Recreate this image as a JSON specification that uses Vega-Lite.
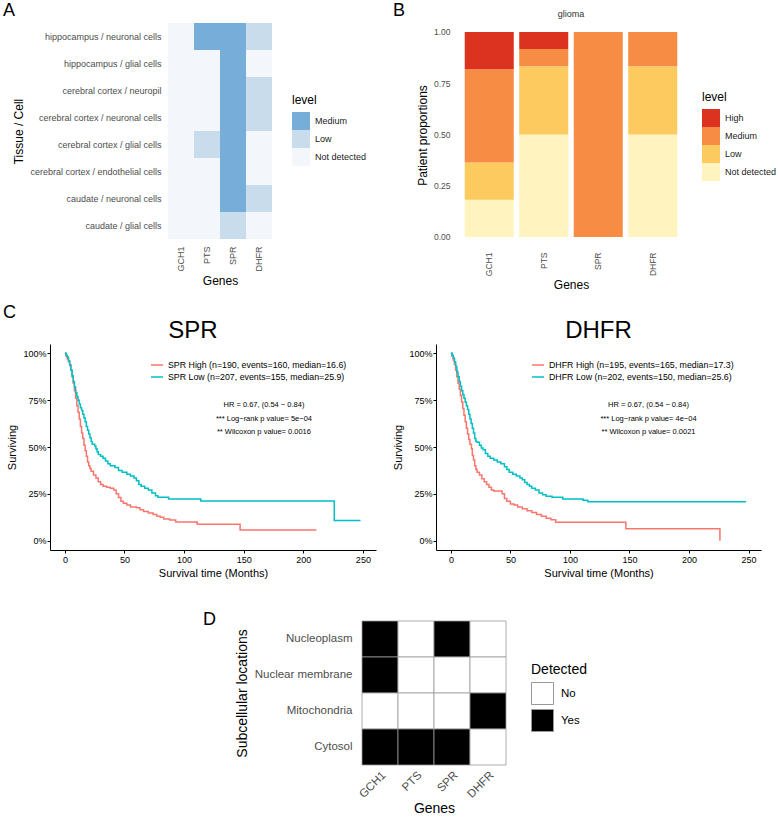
{
  "$schema": "https://vega.github.io/schema/vega-lite/v6.json",
  "autosize": {"type": "none"},
  "padding": {"left": 50, "top": 23, "right": 728, "bottom": 797},
  "config": {
    "view": {"stroke": null},
    "font": "Liberation Sans",
    "title": {"fontWeight": "normal", "font": "Liberation Sans", "color": "#000000", "baseline": "alphabetic"},
    "axis": {"grid": false, "titleFontWeight": "normal", "labelFont": "Liberation Sans", "titleFont": "Liberation Sans", "titleColor": "#000000"},
    "legend": {"titleFontWeight": "normal", "labelFont": "Liberation Sans", "titleFont": "Liberation Sans", "titleColor": "#000000", "labelColor": "#1a1a1a"}
  },
  "datasets": {
    "tissue": [
      {"gene": "GCH1", "tissue": "hippocampus / neuronal cells", "level": "Not detected"},
      {"gene": "GCH1", "tissue": "hippocampus / glial cells", "level": "Not detected"},
      {"gene": "GCH1", "tissue": "cerebral cortex / neuropil", "level": "Not detected"},
      {"gene": "GCH1", "tissue": "cerebral cortex / neuronal cells", "level": "Not detected"},
      {"gene": "GCH1", "tissue": "cerebral cortex / glial cells", "level": "Not detected"},
      {"gene": "GCH1", "tissue": "cerebral cortex / endothelial cells", "level": "Not detected"},
      {"gene": "GCH1", "tissue": "caudate / neuronal cells", "level": "Not detected"},
      {"gene": "GCH1", "tissue": "caudate / glial cells", "level": "Not detected"},
      {"gene": "PTS", "tissue": "hippocampus / neuronal cells", "level": "Medium"},
      {"gene": "PTS", "tissue": "hippocampus / glial cells", "level": "Not detected"},
      {"gene": "PTS", "tissue": "cerebral cortex / neuropil", "level": "Not detected"},
      {"gene": "PTS", "tissue": "cerebral cortex / neuronal cells", "level": "Not detected"},
      {"gene": "PTS", "tissue": "cerebral cortex / glial cells", "level": "Low"},
      {"gene": "PTS", "tissue": "cerebral cortex / endothelial cells", "level": "Not detected"},
      {"gene": "PTS", "tissue": "caudate / neuronal cells", "level": "Not detected"},
      {"gene": "PTS", "tissue": "caudate / glial cells", "level": "Not detected"},
      {"gene": "SPR", "tissue": "hippocampus / neuronal cells", "level": "Medium"},
      {"gene": "SPR", "tissue": "hippocampus / glial cells", "level": "Medium"},
      {"gene": "SPR", "tissue": "cerebral cortex / neuropil", "level": "Medium"},
      {"gene": "SPR", "tissue": "cerebral cortex / neuronal cells", "level": "Medium"},
      {"gene": "SPR", "tissue": "cerebral cortex / glial cells", "level": "Medium"},
      {"gene": "SPR", "tissue": "cerebral cortex / endothelial cells", "level": "Medium"},
      {"gene": "SPR", "tissue": "caudate / neuronal cells", "level": "Medium"},
      {"gene": "SPR", "tissue": "caudate / glial cells", "level": "Low"},
      {"gene": "DHFR", "tissue": "hippocampus / neuronal cells", "level": "Low"},
      {"gene": "DHFR", "tissue": "hippocampus / glial cells", "level": "Not detected"},
      {"gene": "DHFR", "tissue": "cerebral cortex / neuropil", "level": "Low"},
      {"gene": "DHFR", "tissue": "cerebral cortex / neuronal cells", "level": "Low"},
      {"gene": "DHFR", "tissue": "cerebral cortex / glial cells", "level": "Not detected"},
      {"gene": "DHFR", "tissue": "cerebral cortex / endothelial cells", "level": "Not detected"},
      {"gene": "DHFR", "tissue": "caudate / neuronal cells", "level": "Low"},
      {"gene": "DHFR", "tissue": "caudate / glial cells", "level": "Not detected"}
    ],
    "glioma": [
      {"gene": "GCH1", "level": "Not detected", "rank": 1, "proportion": 0.182},
      {"gene": "GCH1", "level": "Low", "rank": 2, "proportion": 0.182},
      {"gene": "GCH1", "level": "Medium", "rank": 3, "proportion": 0.454},
      {"gene": "GCH1", "level": "High", "rank": 4, "proportion": 0.182},
      {"gene": "PTS", "level": "Not detected", "rank": 1, "proportion": 0.5},
      {"gene": "PTS", "level": "Low", "rank": 2, "proportion": 0.333},
      {"gene": "PTS", "level": "Medium", "rank": 3, "proportion": 0.0835},
      {"gene": "PTS", "level": "High", "rank": 4, "proportion": 0.0835},
      {"gene": "SPR", "level": "Medium", "rank": 3, "proportion": 1.0},
      {"gene": "DHFR", "level": "Not detected", "rank": 1, "proportion": 0.5},
      {"gene": "DHFR", "level": "Low", "rank": 2, "proportion": 0.333},
      {"gene": "DHFR", "level": "Medium", "rank": 3, "proportion": 0.167}
    ],
    "spr": [
      {"g":"High","t":0,"s":1},{"g":"High","t":1,"s":0.985},{"g":"High","t":2,"s":0.97},{"g":"High","t":3,"s":0.955},{"g":"High","t":4,"s":0.94},{"g":"High","t":5,"s":0.91},{"g":"High","t":6,"s":0.875},{"g":"High","t":7,"s":0.84},{"g":"High","t":8,"s":0.8},{"g":"High","t":9,"s":0.76},{"g":"High","t":10,"s":0.72},{"g":"High","t":11,"s":0.685},{"g":"High","t":12,"s":0.65},{"g":"High","t":13,"s":0.61},{"g":"High","t":14,"s":0.575},{"g":"High","t":15,"s":0.545},{"g":"High","t":16,"s":0.51},{"g":"High","t":17,"s":0.48},{"g":"High","t":18,"s":0.45},{"g":"High","t":19,"s":0.42},{"g":"High","t":20,"s":0.4},{"g":"High","t":21,"s":0.385},{"g":"High","t":22,"s":0.37},{"g":"High","t":24,"s":0.35},{"g":"High","t":26,"s":0.335},{"g":"High","t":28,"s":0.315},{"g":"High","t":30,"s":0.3},{"g":"High","t":32,"s":0.29},{"g":"High","t":35,"s":0.285},{"g":"High","t":38,"s":0.28},{"g":"High","t":41,"s":0.27},{"g":"High","t":43,"s":0.25},{"g":"High","t":45,"s":0.23},{"g":"High","t":47,"s":0.21},{"g":"High","t":49,"s":0.2},{"g":"High","t":52,"s":0.19},{"g":"High","t":55,"s":0.18},{"g":"High","t":60,"s":0.175},{"g":"High","t":63,"s":0.165},{"g":"High","t":66,"s":0.155},{"g":"High","t":70,"s":0.148},{"g":"High","t":74,"s":0.14},{"g":"High","t":77,"s":0.13},{"g":"High","t":80,"s":0.125},{"g":"High","t":83,"s":0.115},{"g":"High","t":88,"s":0.11},{"g":"High","t":93,"s":0.1},{"g":"High","t":111,"s":0.087},{"g":"High","t":147,"s":0.057},{"g":"High","t":211,"s":0.057},
      {"g":"Low","t":0,"s":1},{"g":"Low","t":1,"s":0.99},{"g":"Low","t":2,"s":0.98},{"g":"Low","t":3,"s":0.96},{"g":"Low","t":4,"s":0.935},{"g":"Low","t":5,"s":0.91},{"g":"Low","t":6,"s":0.88},{"g":"Low","t":7,"s":0.85},{"g":"Low","t":8,"s":0.82},{"g":"Low","t":9,"s":0.79},{"g":"Low","t":10,"s":0.77},{"g":"Low","t":11,"s":0.75},{"g":"Low","t":12,"s":0.73},{"g":"Low","t":13,"s":0.71},{"g":"Low","t":14,"s":0.695},{"g":"Low","t":15,"s":0.675},{"g":"Low","t":16,"s":0.655},{"g":"Low","t":17,"s":0.635},{"g":"Low","t":18,"s":0.61},{"g":"Low","t":19,"s":0.59},{"g":"Low","t":20,"s":0.57},{"g":"Low","t":21,"s":0.55},{"g":"Low","t":22,"s":0.53},{"g":"Low","t":23,"s":0.515},{"g":"Low","t":25,"s":0.505},{"g":"Low","t":26,"s":0.49},{"g":"Low","t":27,"s":0.475},{"g":"Low","t":28,"s":0.46},{"g":"Low","t":30,"s":0.45},{"g":"Low","t":32,"s":0.44},{"g":"Low","t":34,"s":0.425},{"g":"Low","t":36,"s":0.41},{"g":"Low","t":38,"s":0.4},{"g":"Low","t":42,"s":0.39},{"g":"Low","t":45,"s":0.375},{"g":"Low","t":48,"s":0.365},{"g":"Low","t":52,"s":0.355},{"g":"Low","t":55,"s":0.345},{"g":"Low","t":58,"s":0.335},{"g":"Low","t":60,"s":0.32},{"g":"Low","t":62,"s":0.3},{"g":"Low","t":64,"s":0.29},{"g":"Low","t":67,"s":0.28},{"g":"Low","t":70,"s":0.27},{"g":"Low","t":73,"s":0.255},{"g":"Low","t":76,"s":0.24},{"g":"Low","t":78,"s":0.232},{"g":"Low","t":87,"s":0.222},{"g":"Low","t":114,"s":0.212},{"g":"Low","t":226,"s":0.107},{"g":"Low","t":248,"s":0.107}
    ],
    "dhfr": [
      {"g":"High","t":0,"s":1},{"g":"High","t":1,"s":0.985},{"g":"High","t":2,"s":0.965},{"g":"High","t":3,"s":0.94},{"g":"High","t":4,"s":0.91},{"g":"High","t":5,"s":0.875},{"g":"High","t":6,"s":0.84},{"g":"High","t":7,"s":0.81},{"g":"High","t":8,"s":0.775},{"g":"High","t":9,"s":0.74},{"g":"High","t":10,"s":0.705},{"g":"High","t":11,"s":0.67},{"g":"High","t":12,"s":0.635},{"g":"High","t":13,"s":0.6},{"g":"High","t":14,"s":0.57},{"g":"High","t":15,"s":0.54},{"g":"High","t":16,"s":0.515},{"g":"High","t":17.3,"s":0.49},{"g":"High","t":18,"s":0.455},{"g":"High","t":19,"s":0.43},{"g":"High","t":20,"s":0.4},{"g":"High","t":21,"s":0.38},{"g":"High","t":22,"s":0.365},{"g":"High","t":24,"s":0.35},{"g":"High","t":26,"s":0.33},{"g":"High","t":28,"s":0.315},{"g":"High","t":30,"s":0.3},{"g":"High","t":32,"s":0.285},{"g":"High","t":34,"s":0.27},{"g":"High","t":36,"s":0.265},{"g":"High","t":43,"s":0.25},{"g":"High","t":45,"s":0.225},{"g":"High","t":47,"s":0.21},{"g":"High","t":50,"s":0.195},{"g":"High","t":53,"s":0.19},{"g":"High","t":56,"s":0.18},{"g":"High","t":60,"s":0.17},{"g":"High","t":64,"s":0.16},{"g":"High","t":68,"s":0.15},{"g":"High","t":72,"s":0.14},{"g":"High","t":76,"s":0.13},{"g":"High","t":80,"s":0.12},{"g":"High","t":84,"s":0.112},{"g":"High","t":88,"s":0.098},{"g":"High","t":147,"s":0.064},{"g":"High","t":226,"s":0},
      {"g":"Low","t":0,"s":1},{"g":"Low","t":1,"s":0.99},{"g":"Low","t":2,"s":0.975},{"g":"Low","t":3,"s":0.955},{"g":"Low","t":4,"s":0.93},{"g":"Low","t":5,"s":0.9},{"g":"Low","t":6,"s":0.875},{"g":"Low","t":7,"s":0.85},{"g":"Low","t":8,"s":0.825},{"g":"Low","t":9,"s":0.8},{"g":"Low","t":10,"s":0.78},{"g":"Low","t":11,"s":0.76},{"g":"Low","t":12,"s":0.74},{"g":"Low","t":13,"s":0.72},{"g":"Low","t":14,"s":0.7},{"g":"Low","t":15,"s":0.675},{"g":"Low","t":16,"s":0.65},{"g":"Low","t":17,"s":0.625},{"g":"Low","t":18,"s":0.6},{"g":"Low","t":19,"s":0.575},{"g":"Low","t":20,"s":0.545},{"g":"Low","t":21,"s":0.53},{"g":"Low","t":22,"s":0.525},{"g":"Low","t":24,"s":0.51},{"g":"Low","t":25.6,"s":0.495},{"g":"Low","t":27,"s":0.485},{"g":"Low","t":29,"s":0.465},{"g":"Low","t":31,"s":0.45},{"g":"Low","t":33,"s":0.44},{"g":"Low","t":36,"s":0.43},{"g":"Low","t":39,"s":0.42},{"g":"Low","t":42,"s":0.41},{"g":"Low","t":45,"s":0.395},{"g":"Low","t":47,"s":0.38},{"g":"Low","t":49,"s":0.365},{"g":"Low","t":52,"s":0.355},{"g":"Low","t":55,"s":0.345},{"g":"Low","t":58,"s":0.335},{"g":"Low","t":60,"s":0.325},{"g":"Low","t":62,"s":0.31},{"g":"Low","t":64,"s":0.3},{"g":"Low","t":66,"s":0.29},{"g":"Low","t":68,"s":0.28},{"g":"Low","t":71,"s":0.27},{"g":"Low","t":74,"s":0.255},{"g":"Low","t":77,"s":0.245},{"g":"Low","t":80,"s":0.237},{"g":"Low","t":85,"s":0.232},{"g":"Low","t":94,"s":0.223},{"g":"Low","t":111,"s":0.215},{"g":"Low","t":115,"s":0.207},{"g":"Low","t":248,"s":0.207}
    ],
    "subcell": [
      {"gene": "GCH1", "location": "Nucleoplasm", "detected": "Yes"},
      {"gene": "PTS", "location": "Nucleoplasm", "detected": "No"},
      {"gene": "SPR", "location": "Nucleoplasm", "detected": "Yes"},
      {"gene": "DHFR", "location": "Nucleoplasm", "detected": "No"},
      {"gene": "GCH1", "location": "Nuclear membrane", "detected": "Yes"},
      {"gene": "PTS", "location": "Nuclear membrane", "detected": "No"},
      {"gene": "SPR", "location": "Nuclear membrane", "detected": "No"},
      {"gene": "DHFR", "location": "Nuclear membrane", "detected": "No"},
      {"gene": "GCH1", "location": "Mitochondria", "detected": "No"},
      {"gene": "PTS", "location": "Mitochondria", "detected": "No"},
      {"gene": "SPR", "location": "Mitochondria", "detected": "No"},
      {"gene": "DHFR", "location": "Mitochondria", "detected": "Yes"},
      {"gene": "GCH1", "location": "Cytosol", "detected": "Yes"},
      {"gene": "PTS", "location": "Cytosol", "detected": "Yes"},
      {"gene": "SPR", "location": "Cytosol", "detected": "Yes"},
      {"gene": "DHFR", "location": "Cytosol", "detected": "No"}
    ]
  },
  "bounds": "flush",
  "spacing": 0,
  "resolve": {"scale": {"color": "independent", "x": "independent", "y": "independent"}, "legend": {"color": "independent"}},
  "vconcat": [
    {
      "bounds": "flush",
      "spacing": 0,
      "resolve": {"scale": {"color": "independent", "x": "independent", "y": "independent"}, "legend": {"color": "independent"}},
      "hconcat": [
        {"width": 118, "height": 1, "data": {"values": []}, "mark": {"type": "point", "opacity": 0}, "encoding": {}},
        {
          "title": {"text": "A", "anchor": "start", "frame": "group", "dx": -165, "fontSize": 18, "offset": 3},
          "width": 104,
          "height": 216,
          "data": {"name": "tissue"},
          "mark": {"type": "rect"},
          "encoding": {
            "x": {"field": "gene", "type": "nominal", "sort": ["GCH1", "PTS", "SPR", "DHFR"], "scale": {"paddingInner": 0, "paddingOuter": 0},
              "axis": {"title": "Genes", "labelAngle": -90, "labelAlign": "right", "labelBaseline": "middle", "labelPadding": 7, "tickSize": 0, "domain": false, "labelFontSize": 9, "labelColor": "#4d4d4d", "titleFontSize": 12, "titlePadding": 4}},
            "y": {"field": "tissue", "type": "nominal",
              "sort": ["hippocampus / neuronal cells", "hippocampus / glial cells", "cerebral cortex / neuropil", "cerebral cortex / neuronal cells", "cerebral cortex / glial cells", "cerebral cortex / endothelial cells", "caudate / neuronal cells", "caudate / glial cells"],
              "scale": {"paddingInner": 0, "paddingOuter": 0},
              "axis": {"title": "Tissue / Cell", "labelPadding": 7, "tickSize": 0, "domain": false, "labelFontSize": 9, "labelColor": "#4d4d4d", "labelLimit": 300, "titleFontSize": 12, "titlePadding": 4}},
            "color": {"field": "level", "type": "nominal",
              "scale": {"domain": ["Medium", "Low", "Not detected"], "range": ["#76aed9", "#c9dcec", "#f3f6fb"]},
              "legend": {"title": "level", "orient": "none", "legendX": 124, "legendY": 72, "titleFontSize": 12, "titlePadding": 5, "labelFontSize": 9, "symbolType": "square", "symbolSize": 324, "symbolStrokeWidth": 0, "rowPadding": 0, "labelOffset": 5}}
          }
        },
        {
          "title": {"text": "B", "anchor": "start", "frame": "group", "dx": 121, "fontSize": 18, "offset": 3},
          "width": 190, "height": 1, "data": {"values": []}, "mark": {"type": "point", "opacity": 0}, "encoding": {}
        },
        {
          "title": {"text": "glioma", "anchor": "middle", "frame": "group", "fontSize": 9, "offset": 4, "color": "#333333"},
          "width": 218,
          "height": 224,
          "data": {"name": "glioma"},
          "mark": {"type": "bar"},
          "encoding": {
            "x": {"field": "gene", "type": "nominal", "sort": ["GCH1", "PTS", "SPR", "DHFR"], "scale": {"paddingInner": 0.1, "paddingOuter": 0.05},
              "axis": {"title": "Genes", "labelAngle": -90, "labelAlign": "right", "labelBaseline": "middle", "labelPadding": 5, "tickSize": 0, "domain": false, "labelFontSize": 8.5, "labelColor": "#4d4d4d", "titleFontSize": 12, "titlePadding": 4}},
            "y": {"field": "proportion", "type": "quantitative", "stack": "zero", "scale": {"domain": [-0.0488, 1.0439], "nice": false, "zero": false},
              "axis": {"title": "Patient proportions", "values": [0, 0.25, 0.5, 0.75, 1], "format": ".2f", "tickSize": 0, "domain": false, "labelPadding": 12, "labelFontSize": 8.5, "labelColor": "#4d4d4d", "titleFontSize": 12, "titlePadding": 4}},
            "color": {"field": "level", "type": "nominal",
              "scale": {"domain": ["High", "Medium", "Low", "Not detected"], "range": ["#db3320", "#f78c45", "#fdca5f", "#fff4bf"]},
              "legend": {"title": "level", "orient": "none", "legendX": 240, "legendY": 69, "titleFontSize": 12, "titlePadding": 5, "labelFontSize": 9, "symbolType": "square", "symbolSize": 324, "symbolStrokeWidth": 0, "rowPadding": 0, "labelOffset": 5}},
            "order": {"field": "rank", "type": "quantitative", "sort": "ascending"}
          }
        }
      ]
    },
    {"width": 1, "height": 321, "data": {"values": []}, "mark": {"type": "point", "opacity": 0}, "encoding": {}},
    {
      "bounds": "flush",
      "spacing": 0,
      "resolve": {"scale": {"color": "independent", "x": "independent", "y": "independent"}, "legend": {"color": "independent"}},
      "hconcat": [
        {
          "title": {"text": "SPR", "anchor": "middle", "frame": "group", "dx": -20, "fontSize": 24, "offset": 1},
          "width": 326,
          "height": 206,
          "layer": [
            {
              "data": {"name": "spr"},
              "mark": {"type": "line", "interpolate": "step-after", "strokeWidth": 1.5},
              "encoding": {
                "x": {"field": "t", "type": "quantitative", "scale": {"domain": [-12.5, 261], "nice": false, "zero": false},
                  "axis": {"title": "Survival time (Months)", "values": [0, 50, 100, 150, 200, 250], "tickSize": 3, "domainColor": "#000000", "tickColor": "#000000", "labelColor": "#000000", "labelFontSize": 9, "labelPadding": 2, "titleFontSize": 11, "titlePadding": 3}},
                "y": {"field": "s", "type": "quantitative", "scale": {"domain": [-0.05, 1.05], "nice": false, "zero": false},
                  "axis": {"title": "Surviving", "values": [0, 0.25, 0.5, 0.75, 1], "format": ".0%", "tickSize": 3, "domainColor": "#000000", "tickColor": "#000000", "labelColor": "#000000", "labelFontSize": 9, "labelPadding": 1, "titleFontSize": 11, "titlePadding": 5}},
                "color": {"field": "g", "type": "nominal", "scale": {"domain": ["High", "Low"], "range": ["#F8766D", "#00BFC4"]},
                  "legend": {"title": null, "orient": "none", "legendX": 100, "legendY": 14, "labelExpr": "datum.label == 'High' ? 'SPR High (n=190, events=160, median=16.6)' : 'SPR Low (n=207, events=155, median=25.9)'", "labelFontSize": 8.8, "labelColor": "#000000", "labelLimit": 500, "symbolType": "stroke", "symbolSize": 144, "symbolStrokeWidth": 1.5, "rowPadding": 0, "labelOffset": 4}}
              }
            },
            {
              "data": {"values": [{}]},
              "mark": {"type": "text", "text": ["HR = 0.67, (0.54 − 0.84)", "*** Log−rank p value= 5e−04", "** Wilcoxon p value= 0.0016"], "fontSize": 7.5, "lineHeight": 13.5, "align": "center", "baseline": "middle", "color": "#000000"},
              "encoding": {"x": {"datum": 167, "type": "quantitative"}, "y": {"datum": 0.724, "type": "quantitative"}}
            }
          ]
        },
        {
          "title": {"text": "C", "anchor": "start", "frame": "group", "dx": -373, "fontSize": 18, "offset": 22},
          "width": 60, "height": 1, "data": {"values": []}, "mark": {"type": "point", "opacity": 0}, "encoding": {}
        },
        {
          "title": {"text": "DHFR", "anchor": "middle", "frame": "group", "fontSize": 24, "offset": 1},
          "width": 325,
          "height": 206,
          "layer": [
            {
              "data": {"name": "dhfr"},
              "mark": {"type": "line", "interpolate": "step-after", "strokeWidth": 1.5},
              "encoding": {
                "x": {"field": "t", "type": "quantitative", "scale": {"domain": [-12.5, 260.5], "nice": false, "zero": false},
                  "axis": {"title": "Survival time (Months)", "values": [0, 50, 100, 150, 200, 250], "tickSize": 3, "domainColor": "#000000", "tickColor": "#000000", "labelColor": "#000000", "labelFontSize": 9, "labelPadding": 2, "titleFontSize": 11, "titlePadding": 3}},
                "y": {"field": "s", "type": "quantitative", "scale": {"domain": [-0.05, 1.05], "nice": false, "zero": false},
                  "axis": {"title": "Surviving", "values": [0, 0.25, 0.5, 0.75, 1], "format": ".0%", "tickSize": 3, "domainColor": "#000000", "tickColor": "#000000", "labelColor": "#000000", "labelFontSize": 9, "labelPadding": 1, "titleFontSize": 11, "titlePadding": 5}},
                "color": {"field": "g", "type": "nominal", "scale": {"domain": ["High", "Low"], "range": ["#F8766D", "#00BFC4"]},
                  "legend": {"title": null, "orient": "none", "legendX": 95, "legendY": 14, "labelExpr": "datum.label == 'High' ? 'DHFR High (n=195, events=165, median=17.3)' : 'DHFR Low (n=202, events=150, median=25.6)'", "labelFontSize": 8.8, "labelColor": "#000000", "labelLimit": 500, "symbolType": "stroke", "symbolSize": 144, "symbolStrokeWidth": 1.5, "rowPadding": 0, "labelOffset": 4}}
              }
            },
            {
              "data": {"values": [{}]},
              "mark": {"type": "text", "text": ["HR = 0.67, (0.54 − 0.84)", "*** Log−rank p value= 4e−04", "** Wilcoxon p value= 0.0021"], "fontSize": 7.5, "lineHeight": 13.5, "align": "center", "baseline": "middle", "color": "#000000"},
              "encoding": {"x": {"datum": 166, "type": "quantitative"}, "y": {"datum": 0.724, "type": "quantitative"}}
            }
          ]
        }
      ]
    },
    {"width": 1, "height": 277, "data": {"values": []}, "mark": {"type": "point", "opacity": 0}, "encoding": {}},
    {
      "bounds": "flush",
      "spacing": 0,
      "resolve": {"scale": {"color": "independent", "x": "independent", "y": "independent"}, "legend": {"color": "independent"}},
      "hconcat": [
        {
          "title": {"text": "D", "anchor": "start", "frame": "group", "dx": 153, "fontSize": 18, "offset": -8},
          "width": 312, "height": 1, "data": {"values": []}, "mark": {"type": "point", "opacity": 0}, "encoding": {}
        },
        {
          "width": 144,
          "height": 144,
          "data": {"name": "subcell"},
          "mark": {"type": "rect", "stroke": "#999999", "strokeWidth": 0.8},
          "encoding": {
            "x": {"field": "gene", "type": "nominal", "sort": ["GCH1", "PTS", "SPR", "DHFR"], "scale": {"paddingInner": 0, "paddingOuter": 0},
              "axis": {"title": "Genes", "labelAngle": -45, "labelAlign": "right", "labelBaseline": "top", "labelPadding": 4, "tickSize": 0, "domain": false, "labelFontSize": 11.5, "labelColor": "#4d4d4d", "titleFontSize": 14, "titlePadding": 2}},
            "y": {"field": "location", "type": "nominal", "sort": ["Nucleoplasm", "Nuclear membrane", "Mitochondria", "Cytosol"], "scale": {"paddingInner": 0, "paddingOuter": 0},
              "axis": {"title": "Subcellular locations", "labelPadding": 10, "tickSize": 0, "domain": false, "labelFontSize": 11.5, "labelColor": "#4d4d4d", "titleFontSize": 14, "titlePadding": 5}},
            "color": {"field": "detected", "type": "nominal", "scale": {"domain": ["No", "Yes"], "range": ["#ffffff", "#000000"]},
              "legend": {"title": "Detected", "orient": "none", "legendX": 169, "legendY": 42, "titleFontSize": 14, "titlePadding": 5, "labelFontSize": 11.5, "labelColor": "#000000", "symbolType": "square", "symbolSize": 484, "symbolStrokeColor": "#999999", "symbolStrokeWidth": 1, "rowPadding": 0, "labelOffset": 7}}
          }
        }
      ]
    }
  ]
}
